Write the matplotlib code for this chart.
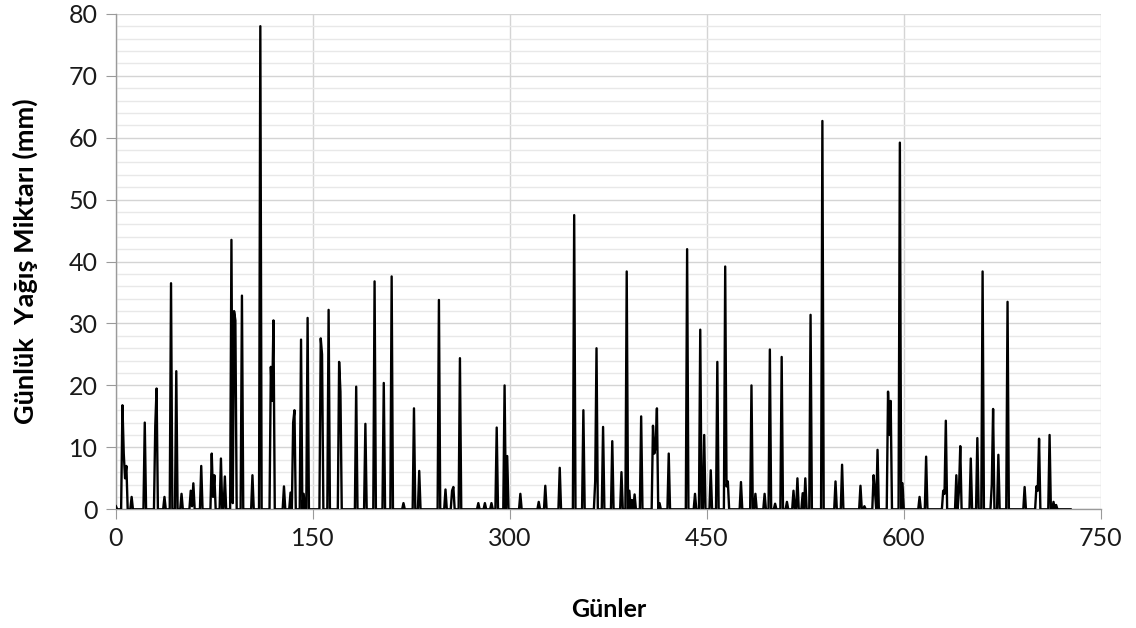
import numpy as np
import matplotlib.pyplot as plt
from matplotlib.ticker import MultipleLocator

# Günlük yağış serisi: yalnızca yağışlı günler (gün numarası, mm); diğer günler 0
n_days = 728
rain_days = [0, 5, 6, 7, 8, 12, 22, 30, 31, 37, 42, 46, 50, 57, 58, 59, 65,
             73, 74, 75, 80, 83, 88, 89, 90, 91, 96, 104, 110, 118, 119, 120,
             128, 133, 135, 136, 141, 143, 146, 156, 157, 162, 170, 171, 183,
             190, 197, 204, 210, 219, 227, 231, 246, 251, 256, 257, 262, 276,
             281, 286, 290, 296, 298, 308, 322, 327, 338, 349, 356, 365, 366,
             371, 378, 385, 389, 391, 393, 395, 400, 409, 410, 411, 412, 414,
             421, 435, 441, 445, 448, 453, 458, 464, 465, 466, 476, 484, 487,
             494, 498, 502, 507, 511, 516, 519, 523, 525, 529, 538, 548, 553,
             567, 570, 577, 578, 580, 588, 589, 590, 597, 599, 612, 617, 630,
             631, 632, 640, 642, 643, 651, 656, 660, 667, 668, 672, 679, 692,
             701, 702, 703, 711, 714, 716]
rain_mm = [0.5, 16.8, 9.0, 5.0, 7.0, 2.0, 14.0, 13.5, 19.5, 2.0, 36.5, 22.3,
           2.5, 3.0, 0.5, 4.2, 7.0,
           9.0, 2.0, 5.5, 8.2, 5.3, 43.5, 1.0, 32.0, 30.5, 34.5, 5.5, 78.0,
           23.0, 17.5, 30.5,
           3.7, 2.7, 14.0, 16.0, 27.4, 2.5, 30.9, 27.6, 25.0, 32.2, 23.8,
           19.0, 19.8,
           13.8, 36.8, 20.4, 37.6, 1.0, 16.3, 6.2, 33.8, 3.2, 3.0, 3.6, 24.4,
           1.0,
           1.0, 1.0, 13.2, 20.0, 8.6, 2.5, 1.2, 3.8, 6.7, 47.5, 16.0, 4.5,
           26.0,
           13.3, 11.0, 6.0, 38.4, 3.0, 1.5, 2.4, 15.0, 13.5, 9.0, 10.0, 16.3,
           1.0,
           9.0, 42.0, 2.5, 29.0, 12.0, 6.3, 23.8, 39.2, 3.7, 4.5, 4.4, 20.0,
           2.5,
           2.5, 25.8, 0.9, 24.6, 1.2, 3.0, 5.0, 2.6, 5.0, 31.4, 62.7, 4.5,
           7.2,
           3.8, 0.5, 5.5, 3.0, 9.6, 19.0, 12.0, 17.5, 59.2, 4.2, 2.0, 8.5,
           3.0,
           2.5, 14.3, 5.5, 3.0, 10.2, 8.2, 11.5, 38.4, 4.0, 16.2, 8.8, 33.5,
           3.6,
           3.7, 3.0, 11.4, 12.0, 1.2, 0.7]

days = np.arange(n_days)
rain = np.zeros(n_days)
rain[rain_days] = rain_mm

x_ticks = [0, 150, 300, 450, 600, 750]

plt.rcParams['font.family'] = ['Lato', 'DejaVu Sans']

fig = plt.figure(figsize=(11.36, 6.28), dpi=100)
ax = fig.add_axes([0.102, 0.189, 0.867, 0.789])

ax.plot(days, rain, color='black', linewidth=1.7, zorder=3)

ax.set_xlim(0, 750)
ax.set_ylim(0, 80)
ax.set_xticks(x_ticks)
ax.yaxis.set_major_locator(MultipleLocator(10))
ax.yaxis.set_minor_locator(MultipleLocator(2))

ax.grid(which='major', axis='both', color='#d4d4d4', linewidth=1.0)
ax.grid(which='minor', axis='y', color='#e8e8e8', linewidth=1.0)
ax.set_axisbelow(True)

for side in ['top', 'right']:
    ax.spines[side].set_visible(False)
for side in ['left', 'bottom']:
    ax.spines[side].set_color('#9a9a9a')
    ax.spines[side].set_linewidth(1.0)

ax.tick_params(which='major', direction='out', length=7, color='#9a9a9a',
               labelsize=18, labelcolor='#1a1a1a', pad=6)
ax.tick_params(which='minor', length=0)

ax.set_xlabel('Günler', fontsize=18, fontweight='bold', labelpad=34)
ax.set_ylabel('Günlük  Yağış Miktarı (mm)', fontsize=19.5, fontweight='bold',
              labelpad=22)

fig.savefig('out.png', dpi=100)
